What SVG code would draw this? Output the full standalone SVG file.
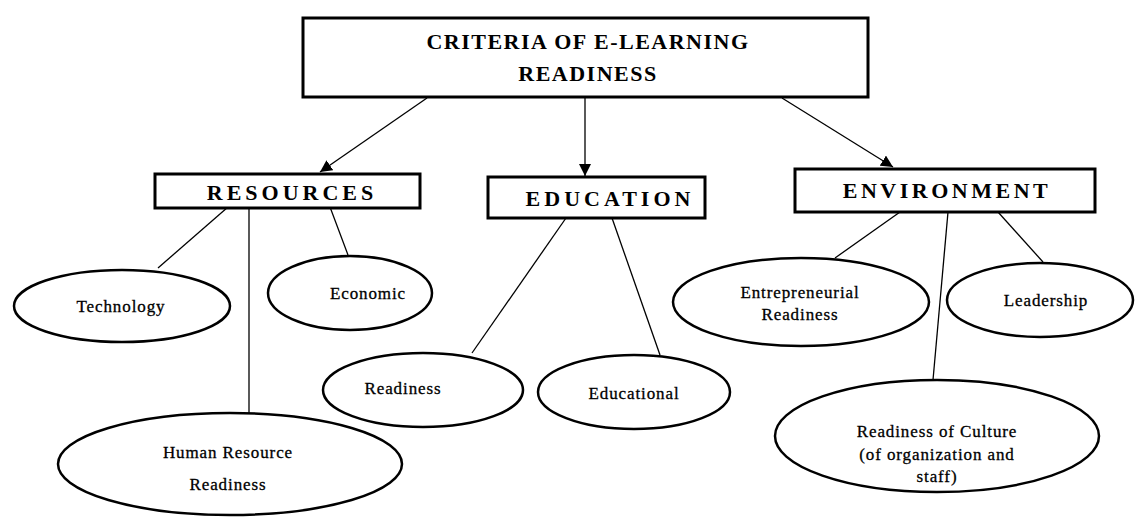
<svg xmlns="http://www.w3.org/2000/svg" width="1137" height="517" viewBox="0 0 1137 517">
<style>
.box{fill:#fff;stroke:#000;stroke-width:3}
.ell{fill:#fff;stroke:#000;stroke-width:2.5}
.con{stroke:#000;stroke-width:1.3;fill:none}
.h{font-family:"Liberation Serif",serif;font-weight:bold;fill:#000;text-anchor:middle}
.t{font-family:"Liberation Serif",serif;font-size:17px;letter-spacing:0.9px;fill:#000;text-anchor:middle;stroke:#000;stroke-width:0.3}
</style>
<defs>
<marker id="arr" viewBox="0 0 10 10" refX="10" refY="5" markerWidth="12" markerHeight="12" markerUnits="userSpaceOnUse" orient="auto">
<path d="M0,0 L10,5 L0,10 z" fill="#000"/>
</marker>
</defs>
<rect width="1137" height="517" fill="#fff"/>
<g id="connectors">
<line class="con" x1="427" y1="98" x2="320" y2="172" marker-end="url(#arr)"/>
<line class="con" x1="585" y1="98" x2="585" y2="176" marker-end="url(#arr)"/>
<line class="con" x1="782" y1="98" x2="893" y2="167" marker-end="url(#arr)"/>
<line class="con" x1="228" y1="207" x2="158" y2="268"/>
<line class="con" x1="249" y1="207" x2="249" y2="413"/>
<line class="con" x1="330" y1="207" x2="348" y2="255"/>
<line class="con" x1="566" y1="218" x2="472" y2="353"/>
<line class="con" x1="612" y1="218" x2="660" y2="355"/>
<line class="con" x1="900" y1="212" x2="835" y2="258"/>
<line class="con" x1="948" y1="212" x2="933" y2="380"/>
<line class="con" x1="998" y1="212" x2="1043" y2="262"/>
</g>
<g id="criteria">
<rect class="box" x="303" y="18" width="565" height="79"/>
<text class="h" x="588" y="49" font-size="22" letter-spacing="1.5">CRITERIA OF E-LEARNING</text>
<text class="h" x="588" y="81" font-size="22" letter-spacing="1.5">READINESS</text>
</g>
<g id="resources">
<rect class="box" x="155" y="174" width="265" height="34"/>
<text class="h" x="292" y="200" font-size="22" letter-spacing="4">RESOURCES</text>
</g>
<g id="education">
<rect class="box" x="488" y="177" width="217" height="41"/>
<text class="h" x="610" y="206" font-size="22" letter-spacing="4">EDUCATION</text>
</g>
<g id="environment">
<rect class="box" x="795" y="169" width="300" height="43"/>
<text class="h" x="947" y="198" font-size="22" letter-spacing="3.5">ENVIRONMENT</text>
</g>
<g id="technology">
<ellipse class="ell" cx="122" cy="306" rx="108" ry="36"/>
<text class="t" x="121" y="312">Technology</text>
</g>
<g id="economic">
<ellipse class="ell" cx="350" cy="293" rx="82" ry="37"/>
<text class="t" x="368" y="299">Economic</text>
</g>
<g id="human-resource">
<ellipse class="ell" cx="230" cy="464" rx="172" ry="51"/>
<text class="t" x="228" y="458">Human Resource</text>
<text class="t" x="228" y="490">Readiness</text>
</g>
<g id="readiness">
<ellipse class="ell" cx="423" cy="390" rx="100" ry="37"/>
<text class="t" x="403" y="394">Readiness</text>
</g>
<g id="educational">
<ellipse class="ell" cx="634" cy="392" rx="96" ry="37"/>
<text class="t" x="634" y="399">Educational</text>
</g>
<g id="entrepreneurial">
<ellipse class="ell" cx="801" cy="302" rx="128" ry="44"/>
<text class="t" x="800" y="298">Entrepreneurial</text>
<text class="t" x="800" y="320">Readiness</text>
</g>
<g id="leadership">
<ellipse class="ell" cx="1040" cy="300" rx="93" ry="37"/>
<text class="t" x="1046" y="306">Leadership</text>
</g>
<g id="culture">
<ellipse class="ell" cx="937" cy="436" rx="162" ry="56"/>
<text class="t" x="937" y="437">Readiness of Culture</text>
<text class="t" x="937" y="460">(of organization and</text>
<text class="t" x="937" y="482">staff)</text>
</g>
</svg>
